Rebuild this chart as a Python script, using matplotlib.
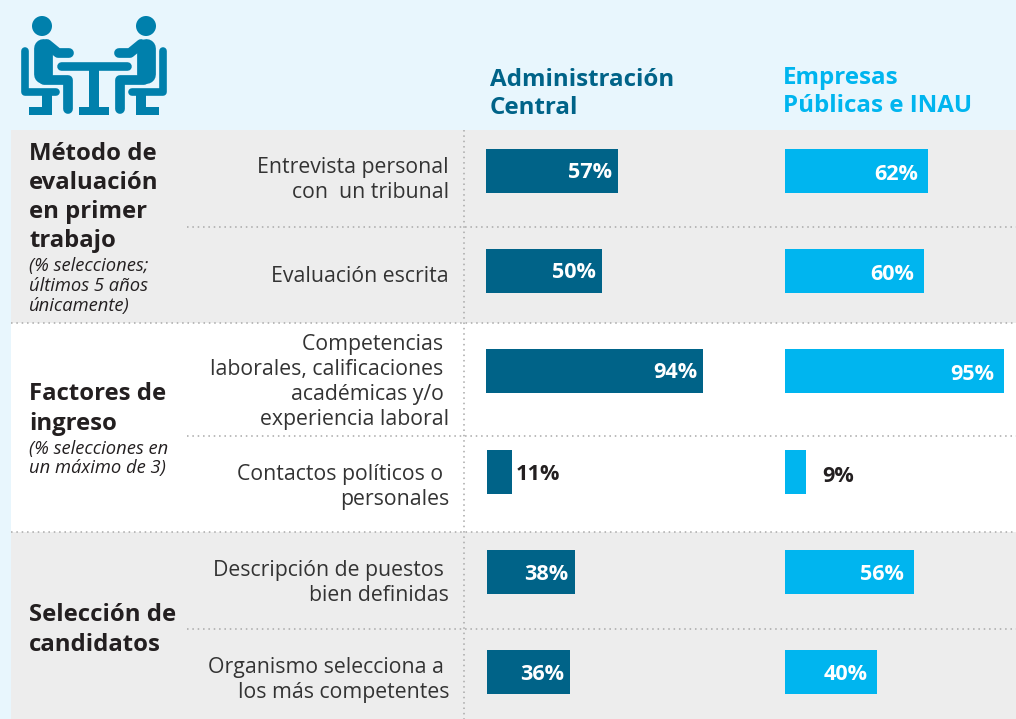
import matplotlib
matplotlib.use('Agg')
import matplotlib.pyplot as plt
from matplotlib.patches import Circle, Rectangle

# --- Data ---
FACTORS = ['Entrevista personal\ncon  un tribunal', 'Evaluación escrita',
           'Competencias \nlaborales, calificaciones \nacadémicas y/o \nexperiencia laboral',
           'Contactos políticos o \npersonales',
           'Descripción de puestos \nbien definidas',
           'Organismo selecciona a \nlos más competentes']
CENTRAL = [57, 50, 94, 11, 38, 36]
PUBLICAS = [62, 60, 95, 9, 56, 40]
SERIES_NAMES = ['Administración\nCentral', 'Empresas\nPúblicas e INAU']

# --- Configuration ---
W, H = 1016, 719
DARK = '#006388'
LIGHT = '#00B5EF'
ICON = '#0080AC'
SKY = '#E8F6FD'
GREY = '#EDEDED'
INK = '#231F20'
BODY = '#333333'
DOT = '#A8A8A8'
PX_PER_PCT = 2.31

BAR_TOPS = [149, 249, 349, 450, 550, 650]
BAR_H = 44
LEFT0 = [486, 486, 486, 487, 487, 487]
RIGHT0 = [785, 785, 785, 785, 785, 785]
LABEL_Y = [180, 277, 382, 487, 583, 680]
C_VAL_X = [612, 596, 697, 516, 568, 564]
C_VAL_Y = [173, 273, 373, 474, 574, 674]
P_VAL_X = [918, 914, 994, 822, 904, 868]
P_VAL_Y = [174, 274, 374, 476, 574, 674]

plt.rcParams['font.family'] = ['Open Sans', 'DejaVu Sans']

fig = plt.figure(figsize=(W / 100, H / 100), dpi=100, facecolor=SKY)
ax = fig.add_axes([0, 0, 1, 1])
ax.set_xlim(0, W)
ax.set_ylim(H, 0)
ax.axis('off')

# Background bands
ax.add_patch(Rectangle((11, 130), W - 11, 193, color=GREY, lw=0))
ax.add_patch(Rectangle((11, 323), W - 11, 209, color='white', lw=0))
ax.add_patch(Rectangle((11, 532), W - 11, 187, color=GREY, lw=0))

# Dotted separators
dots = dict(color=DOT, lw=1.1, linestyle=(0, (1, 2.5)))
ax.plot([464, 464], [130, 719], **dots)
for y in [227, 436, 629]:
    ax.plot([187, W], [y, y], **dots)
for y in [323, 532]:
    ax.plot([11, W], [y, y], **dots)

# Bars
for i in range(len(FACTORS)):
    ax.barh(BAR_TOPS[i] + BAR_H / 2, CENTRAL[i] * PX_PER_PCT, height=BAR_H,
            left=LEFT0[i], color=DARK, lw=0)
    ax.barh(BAR_TOPS[i] + BAR_H / 2, PUBLICAS[i] * PX_PER_PCT, height=BAR_H,
            left=RIGHT0[i], color=LIGHT, lw=0)
    inside_c = CENTRAL[i] > 20
    inside_p = PUBLICAS[i] > 20
    ax.text(C_VAL_X[i], C_VAL_Y[i], f'{CENTRAL[i]}%', fontsize=15.6, fontweight='bold',
            color='white' if inside_c else INK, ha='right' if inside_c else 'left', va='center')
    ax.text(P_VAL_X[i], P_VAL_Y[i], f'{PUBLICAS[i]}%', fontsize=15.6, fontweight='bold',
            color='white' if inside_p else INK, ha='right' if inside_p else 'left', va='center')
    ax.text(449, LABEL_Y[i], FACTORS[i], fontsize=15.3, color=BODY, ha='right', va='center',
            multialignment='right', linespacing=1.26)

# Column headers
ax.text(490, 94, SERIES_NAMES[0], fontsize=17.4, fontweight='bold', color=DARK,
        va='center', linespacing=1.21)
ax.text(783, 92, SERIES_NAMES[1], fontsize=17.4, fontweight='bold', color=LIGHT,
        va='center', linespacing=1.21)

# Group titles
ax.text(29, 197.5, 'Método de\nevaluación\nen primer\ntrabajo', fontsize=17.2, fontweight='bold',
        color=INK, va='center', linespacing=1.29)
ax.text(29, 286, '(% selecciones;\núltimos 5 años\núnicamente)', fontsize=13.2, style='italic',
        color=INK, va='center', linespacing=1.14)
ax.text(29, 409, 'Factores de\ningreso', fontsize=17.2, fontweight='bold', color=INK,
        va='center', linespacing=1.29)
ax.text(29, 458.5, '(% selecciones en\nun máximo de 3)', fontsize=13.2, style='italic', color=INK,
        va='center', linespacing=1.14)
ax.text(29, 630, 'Selección de\ncandidatos', fontsize=17.2, fontweight='bold', color=INK,
        va='center', linespacing=1.29)

# Icon: two people at a table
def stroke(xs, ys, lw, cap='round'):
    ax.plot(xs, ys, color=ICON, lw=lw, solid_capstyle=cap, solid_joinstyle='round')

def box(x0, x1, y0, y1):
    ax.add_patch(Rectangle((x0, y0), x1 - x0, y1 - y0, color=ICON, lw=0))

for s in [-1, 1]:
    cx = 94
    ax.add_patch(Circle((cx + s * 52, 26), 10, color=ICON, lw=0))
    # torso, arm, leg
    stroke([cx + s * 51.5, cx + s * 51.5], [48, 74], 13.5)
    stroke([cx + s * 47, cx + s * 36, cx + s * 25], [44, 53, 53], 7)
    stroke([cx + s * 50, cx + s * 26, cx + s * 26], [79.5, 79.5, 109], 7)
    # chair
    stroke([cx + s * 69, cx + s * 69, cx + s * 38], [51, 92, 92], 5.5)
    box(cx + s * 42, cx + s * 52, 94, 110)
    box(cx + s * 42, cx + s * 65, 107, 115)

# table
stroke([61, 127], [65.5, 65.5], 6.2)
box(89, 99, 65, 110)
box(79, 109, 107, 115)

fig.savefig('out.png', dpi=100, facecolor=SKY)
